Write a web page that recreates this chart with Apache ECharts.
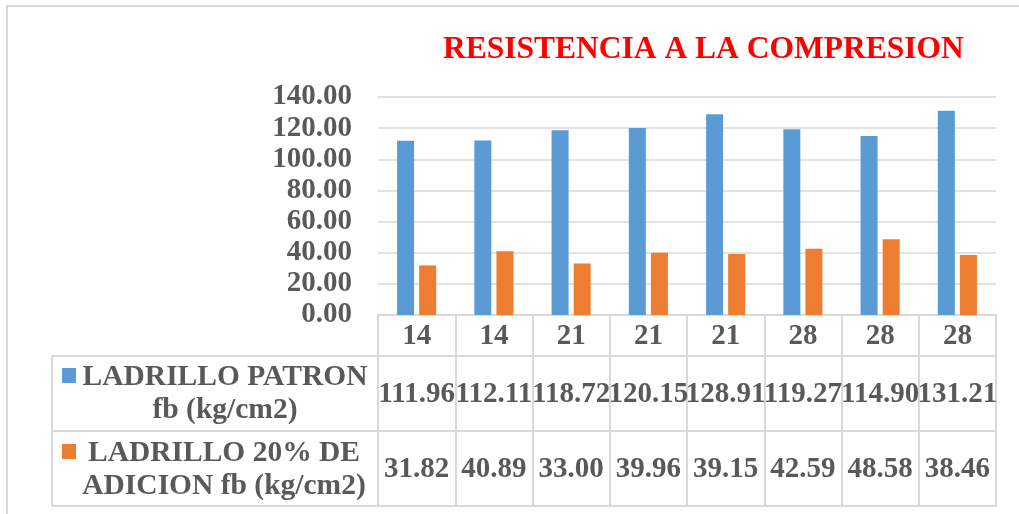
<!DOCTYPE html>
<html>
<head>
<meta charset="utf-8">
<script src="https://cdn.jsdelivr.net/npm/echarts@6/dist/echarts.min.js"></script>
<style>
  html, body { margin: 0; padding: 0; background: #ffffff; }
  #chart { width: 1019px; height: 514px; }
</style>
</head>
<body>
<div id="chart"></div>
<script>
// Curing ages (days) for each specimen
const categories = ['14', '14', '21', '21', '21', '28', '28', '28'];
// Compressive strength fb (kg/cm2)
const patron = [111.96, 112.11, 118.72, 120.15, 128.91, 119.27, 114.90, 131.21];
const adicion = [31.82, 40.89, 33.00, 39.96, 39.15, 42.59, 48.58, 38.46];
const seriesNames = ['LADRILLO PATRON\nfb (kg/cm2)', 'LADRILLO 20% DE\nADICION fb (kg/cm2)'];
const titleText = 'RESISTENCIA A LA COMPRESION';

const FONT = 'Liberation Serif';
const TXT = '#595959';
const LINE = '#D9D9D9';
const BLUE = '#5B9BD5';
const ORANGE = '#ED7D31';

const chart = echarts.init(document.getElementById('chart'), null, { renderer: 'canvas' });

const labelBase = { fontFamily: FONT, fontWeight: 'bold', fontSize: 29, color: TXT };

// One category axis per data-table row: its line is the row's top border,
// its ticks are the cell dividers and its labels are the cell values.
function tableAxis(offset, tickLen, margin, formatter, showLabel) {
  return {
    type: 'category',
    data: categories,
    position: 'bottom',
    offset: offset,
    axisLine: { show: true, lineStyle: { color: LINE, width: 2 } },
    axisTick: { show: tickLen > 0, length: tickLen, interval: 0, lineStyle: { color: LINE, width: 2 } },
    axisLabel: Object.assign({ show: showLabel, interval: 0, margin: margin, formatter: formatter }, labelBase),
    splitLine: { show: false }
  };
}

chart.setOption({
  animation: false,
  title: {
    text: titleText,
    left: 438,
    top: 29,
    textStyle: { fontFamily: FONT, fontWeight: 'bold', fontSize: 31.5, color: '#FF0000' }
  },
  grid: { left: 378, right: 23, top: 97, bottom: 199, containLabel: false },
  xAxis: [
    tableAxis(0, 41, 7, v => v, true),
    tableAxis(41, 75, 24, (v, i) => patron[i].toFixed(2), true),
    tableAxis(116, 75, 24, (v, i) => adicion[i].toFixed(2), true),
    tableAxis(191, 0, 0, v => '', false)
  ],
  yAxis: {
    type: 'value',
    min: 0,
    max: 140,
    interval: 20,
    axisLine: { show: false },
    axisTick: { show: false },
    axisLabel: Object.assign({ margin: 26, formatter: v => v.toFixed(2) }, labelBase),
    splitLine: { lineStyle: { color: LINE, width: 1.5 } }
  },
  series: [
    { name: seriesNames[0], type: 'bar', xAxisIndex: 0, data: patron, barWidth: 17, barGap: '30%',
      itemStyle: { color: BLUE } },
    { name: seriesNames[1], type: 'bar', xAxisIndex: 0, data: adicion, barWidth: 17, barGap: '30%',
      itemStyle: { color: ORANGE } }
  ],
  graphic: [
    // chart frame
    { type: 'rect', shape: { x: 7, y: 6, width: 1100, height: 600 }, style: { fill: 'none', stroke: LINE, lineWidth: 2 }, silent: true },
    // series-name column of the data table
    { type: 'line', shape: { x1: 52, y1: 356, x2: 378, y2: 356 }, style: { stroke: LINE, lineWidth: 2 } },
    { type: 'line', shape: { x1: 52, y1: 431, x2: 378, y2: 431 }, style: { stroke: LINE, lineWidth: 2 } },
    { type: 'line', shape: { x1: 52, y1: 506, x2: 378, y2: 506 }, style: { stroke: LINE, lineWidth: 2 } },
    { type: 'line', shape: { x1: 52, y1: 356, x2: 52, y2: 506 }, style: { stroke: LINE, lineWidth: 2 } },
    { type: 'rect', shape: { x: 62, y: 368, width: 14, height: 15 }, style: { fill: BLUE } },
    { type: 'rect', shape: { x: 62, y: 444, width: 14, height: 15 }, style: { fill: ORANGE } },
    { type: 'text', x: 225, y: 394, style: { text: seriesNames[0], align: 'center', verticalAlign: 'middle',
      lineHeight: 33, font: 'bold 29.5px "' + FONT + '"', fill: TXT } },
    { type: 'text', x: 224, y: 469.5, style: { text: seriesNames[1], align: 'center', verticalAlign: 'middle',
      lineHeight: 33, font: 'bold 29.5px "' + FONT + '"', fill: TXT } }
  ]
});
</script>
</body>
</html>
